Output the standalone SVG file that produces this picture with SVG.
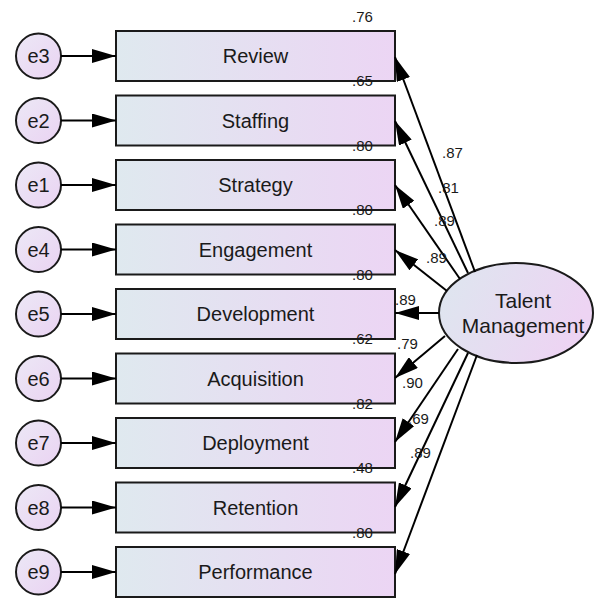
<svg xmlns="http://www.w3.org/2000/svg" width="596" height="598" viewBox="0 0 596 598">
<defs>
<linearGradient id="gBox" x1="0" y1="0" x2="1" y2="0">
<stop offset="0" stop-color="#dfe9ef"/>
<stop offset="1" stop-color="#ecd5f4"/>
</linearGradient>
<linearGradient id="gCirc" x1="0" y1="0" x2="1" y2="1">
<stop offset="0" stop-color="#ece8f6"/>
<stop offset="1" stop-color="#ead3f2"/>
</linearGradient>
<linearGradient id="gEll" x1="0" y1="0" x2="1" y2="0.3">
<stop offset="0" stop-color="#dde7ef"/>
<stop offset="1" stop-color="#edd4f3"/>
</linearGradient>
<marker id="ah" markerUnits="userSpaceOnUse" markerWidth="24" markerHeight="14" refX="24" refY="7" orient="auto">
<path d="M0,0 L24,7 L0,14 z" fill="#000"/>
</marker>
</defs>
<style>
.box{fill:url(#gBox);stroke:#1a1a1a;stroke-width:2}
.circ{fill:url(#gCirc);stroke:#1a1a1a;stroke-width:2}
.ell{fill:url(#gEll);stroke:#1a1a1a;stroke-width:2}
.lbl{font-family:"Liberation Sans",Arial,sans-serif;font-size:20px;fill:#1a1a1a;text-anchor:middle}
.big{font-size:21px}
.num{font-family:"Liberation Sans",Arial,sans-serif;font-size:15px;fill:#1a1a1a}
.mid{text-anchor:middle}
.con{stroke:#000;stroke-width:2;fill:none;marker-end:url(#ah)}
</style>
<rect width="596" height="598" fill="#fff"/>

<g id="n-review"><rect class="box" x="116" y="31" width="279" height="50"/><text class="lbl" x="255.5" y="63">Review</text></g>
<g id="n-staffing"><rect class="box" x="116" y="95.5" width="279" height="50"/><text class="lbl" x="255.5" y="127.5">Staffing</text></g>
<g id="n-strategy"><rect class="box" x="116" y="160" width="279" height="50"/><text class="lbl" x="255.5" y="192">Strategy</text></g>
<g id="n-engagement"><rect class="box" x="116" y="224.5" width="279" height="50"/><text class="lbl" x="255.5" y="256.5">Engagement</text></g>
<g id="n-development"><rect class="box" x="116" y="289" width="279" height="50"/><text class="lbl" x="255.5" y="321">Development</text></g>
<g id="n-acquisition"><rect class="box" x="116" y="353.5" width="279" height="50"/><text class="lbl" x="255.5" y="385.5">Acquisition</text></g>
<g id="n-deployment"><rect class="box" x="116" y="418" width="279" height="50"/><text class="lbl" x="255.5" y="450">Deployment</text></g>
<g id="n-retention"><rect class="box" x="116" y="482.5" width="279" height="50"/><text class="lbl" x="255.5" y="514.5">Retention</text></g>
<g id="n-performance"><rect class="box" x="116" y="547" width="279" height="50"/><text class="lbl" x="255.5" y="579">Performance</text></g>

<g id="e3"><circle class="circ" cx="38.5" cy="56" r="22.5"/><text class="lbl" x="38.5" y="63">e3</text></g>
<g id="e2"><circle class="circ" cx="38.5" cy="120.5" r="22.5"/><text class="lbl" x="38.5" y="127.5">e2</text></g>
<g id="e1"><circle class="circ" cx="38.5" cy="185" r="22.5"/><text class="lbl" x="38.5" y="192">e1</text></g>
<g id="e4"><circle class="circ" cx="38.5" cy="249.5" r="22.5"/><text class="lbl" x="38.5" y="256.5">e4</text></g>
<g id="e5"><circle class="circ" cx="38.5" cy="314" r="22.5"/><text class="lbl" x="38.5" y="321">e5</text></g>
<g id="e6"><circle class="circ" cx="38.5" cy="378.5" r="22.5"/><text class="lbl" x="38.5" y="385.5">e6</text></g>
<g id="e7"><circle class="circ" cx="38.5" cy="443" r="22.5"/><text class="lbl" x="38.5" y="450">e7</text></g>
<g id="e8"><circle class="circ" cx="38.5" cy="507.5" r="22.5"/><text class="lbl" x="38.5" y="514.5">e8</text></g>
<g id="e9"><circle class="circ" cx="38.5" cy="572" r="22.5"/><text class="lbl" x="38.5" y="579">e9</text></g>

<g id="n-talent"><ellipse class="ell" cx="516" cy="313" rx="77" ry="50"/><text class="lbl big" x="523" y="308">Talent</text><text class="lbl big" x="523" y="333">Management</text></g>

<g id="connectors">
<line class="con" x1="61" y1="56" x2="116" y2="56"/>
<line class="con" x1="61" y1="120.5" x2="116" y2="120.5"/>
<line class="con" x1="61" y1="185" x2="116" y2="185"/>
<line class="con" x1="61" y1="249.5" x2="116" y2="249.5"/>
<line class="con" x1="61" y1="314" x2="116" y2="314"/>
<line class="con" x1="61" y1="378.5" x2="116" y2="378.5"/>
<line class="con" x1="61" y1="443" x2="116" y2="443"/>
<line class="con" x1="61" y1="507.5" x2="116" y2="507.5"/>
<line class="con" x1="61" y1="572" x2="116" y2="572"/>
<line class="con" x1="475" y1="272" x2="395" y2="57"/>
<line class="con" x1="468" y1="273" x2="395" y2="121"/>
<line class="con" x1="460" y1="279" x2="395" y2="185"/>
<line class="con" x1="447" y1="291" x2="395" y2="250"/>
<line class="con" x1="439" y1="313" x2="395" y2="313"/>
<line class="con" x1="445" y1="336" x2="395" y2="378"/>
<line class="con" x1="458" y1="349" x2="395" y2="442"/>
<line class="con" x1="468" y1="353" x2="395" y2="507"/>
<line class="con" x1="477" y1="355" x2="395" y2="574"/>
</g>

<g id="labels">
<text class="num mid" x="362.5" y="21.5">.76</text>
<text class="num mid" x="362.5" y="86">.65</text>
<text class="num mid" x="362.5" y="150.5">.80</text>
<text class="num mid" x="362.5" y="215">.80</text>
<text class="num mid" x="362.5" y="279.5">.80</text>
<text class="num mid" x="362.5" y="344">.62</text>
<text class="num mid" x="362.5" y="408.5">.82</text>
<text class="num mid" x="362.5" y="473">.48</text>
<text class="num mid" x="362.5" y="537.5">.80</text>
<text class="num" x="442" y="158">.87</text>
<text class="num" x="438" y="193">.81</text>
<text class="num" x="434" y="226">.89</text>
<text class="num" x="426" y="263">.89</text>
<text class="num" x="395" y="305">.89</text>
<text class="num" x="397" y="349">.79</text>
<text class="num" x="402" y="388">.90</text>
<text class="num" x="408" y="424">.69</text>
<text class="num" x="410" y="458">.89</text>
</g>
</svg>
